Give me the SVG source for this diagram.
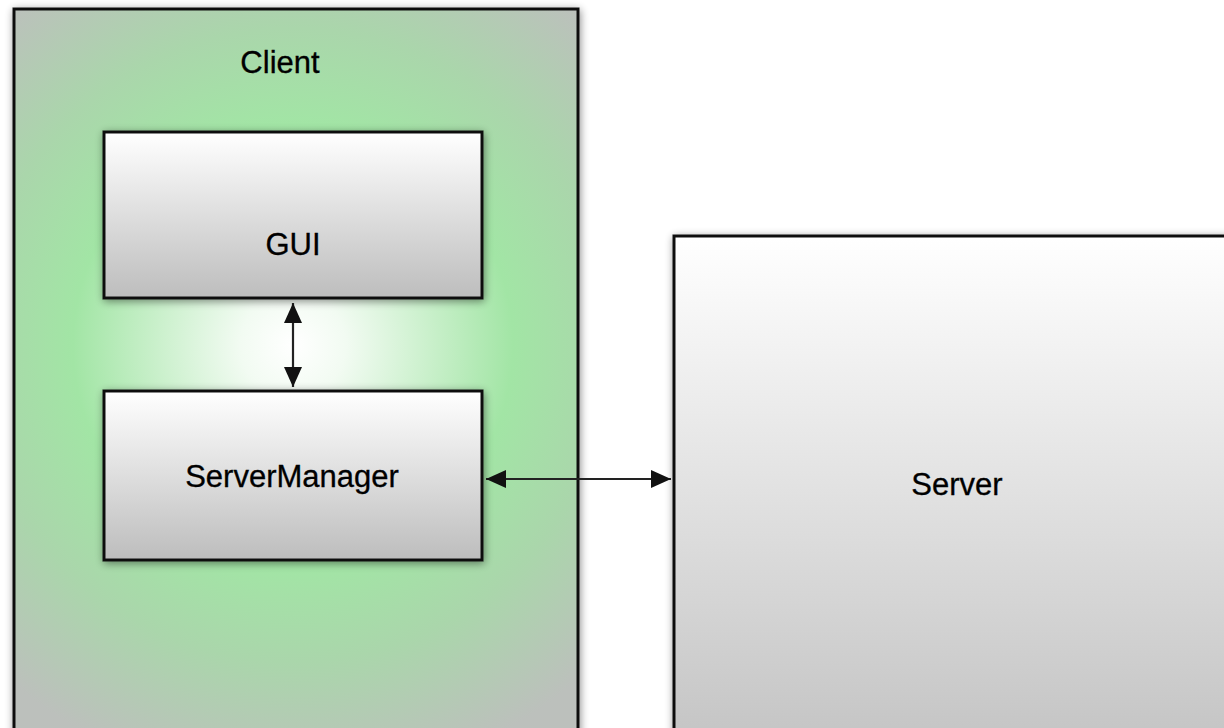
<svg xmlns="http://www.w3.org/2000/svg" width="1224" height="728" viewBox="0 0 1224 728">
<defs>
<style>
.box{stroke:#111;stroke-width:3}
.lbl{font-family:"Liberation Sans",Arial,sans-serif;font-size:31px;fill:#000;text-anchor:middle;stroke:#000;stroke-width:0.3}
.conn{stroke:#222;stroke-width:2.2;fill:none}
</style>
<radialGradient id="gClient" gradientUnits="userSpaceOnUse" cx="293" cy="345" r="440">
<stop offset="0" stop-color="#ffffff"/>
<stop offset="0.12" stop-color="#f2fbf2"/>
<stop offset="0.5" stop-color="#a2e5a5"/>
<stop offset="0.72" stop-color="#aad6ab"/>
<stop offset="1" stop-color="#bcc0bc"/>
</radialGradient>
<linearGradient id="gBox" x1="0" y1="0" x2="0" y2="1">
<stop offset="0" stop-color="#ffffff"/>
<stop offset="1" stop-color="#bdbdbd"/>
</linearGradient>
<linearGradient id="gServer" gradientUnits="userSpaceOnUse" x1="0" y1="236" x2="0" y2="728">
<stop offset="0" stop-color="#ffffff"/>
<stop offset="1" stop-color="#c6c6c6"/>
</linearGradient>
<filter id="shadow" x="-10%" y="-10%" width="120%" height="120%">
<feGaussianBlur in="SourceAlpha" stdDeviation="4"/>
<feOffset dx="1" dy="2" result="b"/>
<feComponentTransfer><feFuncA type="linear" slope="0.45"/></feComponentTransfer>
<feMerge><feMergeNode/><feMergeNode in="SourceGraphic"/></feMerge>
</filter>
<marker id="arr" viewBox="0 0 20 18" refX="20" refY="9" markerWidth="20" markerHeight="18" markerUnits="userSpaceOnUse" orient="auto-start-reverse">
<path d="M0,0 L20,9 L0,18 Z" fill="#111"/>
</marker>
</defs>
<g id="client">
<rect class="box" x="14" y="9" width="564" height="760" fill="url(#gClient)" filter="url(#shadow)"/>
<text class="lbl" x="280" y="73">Client</text>
</g>
<g id="gui">
<rect class="box" x="104" y="132" width="378" height="166" fill="url(#gBox)" filter="url(#shadow)"/>
<text class="lbl" x="293" y="255">GUI</text>
</g>
<g id="servermanager">
<rect class="box" x="104" y="391" width="378" height="169" fill="url(#gBox)" filter="url(#shadow)"/>
<text class="lbl" x="292" y="487">ServerManager</text>
</g>
<g id="server">
<rect class="box" x="674" y="236" width="570" height="540" fill="url(#gServer)" filter="url(#shadow)"/>
<text class="lbl" x="957" y="495">Server</text>
</g>
<g id="connectors">
<line class="conn" x1="293" y1="303" x2="293" y2="387" marker-start="url(#arr)" marker-end="url(#arr)"/>
<line class="conn" x1="486" y1="479" x2="671" y2="479" marker-start="url(#arr)" marker-end="url(#arr)"/>
</g>
</svg>
